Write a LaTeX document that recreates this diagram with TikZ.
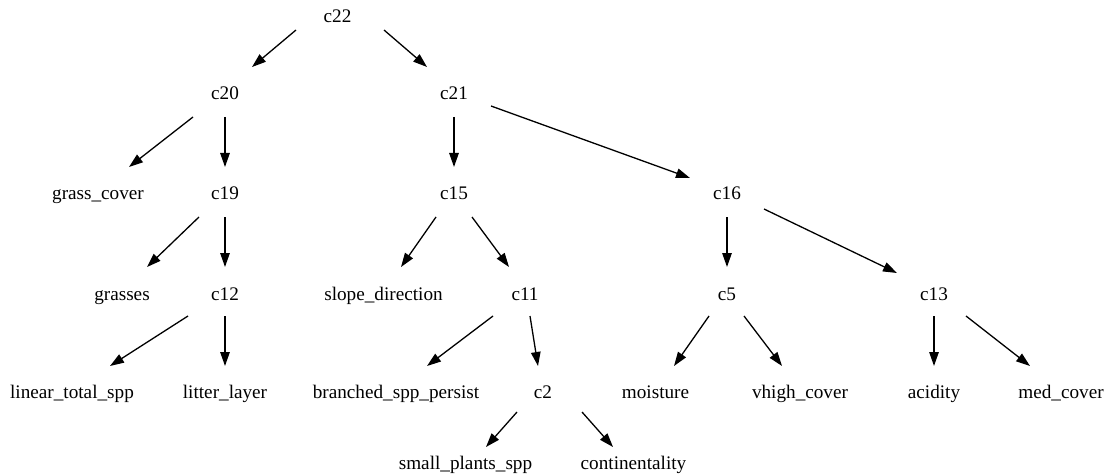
\documentclass[tikz,border=0pt]{standalone}
\usepackage{fontspec}
\setmainfont{Liberation Serif}
\usetikzlibrary{arrows.meta,calc}
\begin{document}
\begin{tikzpicture}[x=1pt,y=-1pt,
  lbl/.style={anchor=base,inner sep=0pt,font=\fontsize{19.2}{23}\selectfont},
  edge/.style={line width=1.3pt,-{Triangle[length=14pt,width=9.5pt]}}]
\useasboundingbox (0,0) rectangle (1114,476);
% rank 1
\node[lbl] (c22) at (337.5,23) {c22};
% rank 2
\node[lbl] (c20) at (225,100) {c20};
\node[lbl] (c21) at (454,100) {c21};
% rank 3
\node[lbl] (grasscover) at (98,200) {grass\_cover};
\node[lbl] (c19) at (225,200) {c19};
\node[lbl] (c15) at (454,200) {c15};
\node[lbl] (c16) at (727,200) {c16};
% rank 4
\node[lbl] (grasses) at (122,300) {grasses};
\node[lbl] (c12) at (225,300) {c12};
\node[lbl] (slope) at (383.5,300) {slope\_direction};
\node[lbl] (c11) at (525,300) {c11};
\node[lbl] (c5) at (727,300) {c5};
\node[lbl] (c13) at (934,300) {c13};
% rank 5
\node[lbl] (linear) at (72,398) {linear\_total\_spp};
\node[lbl] (litter) at (225,398) {litter\_layer};
\node[lbl] (branched) at (396,398) {branched\_spp\_persist};
\node[lbl] (c2) at (543,398) {c2};
\node[lbl] (moisture) at (655.5,398) {moisture};
\node[lbl] (vhigh) at (800,398) {vhigh\_cover};
\node[lbl] (acidity) at (934,398) {acidity};
\node[lbl] (medcover) at (1061,398) {med\_cover};
% rank 6
\node[lbl] (small) at (465.5,469) {small\_plants\_spp};
\node[lbl] (cont) at (633.5,469) {continentality};
% edges
\draw[edge] ($(c22.base)+(-41.5,7)$) -- ($(c20.base)+(27,-33)$);
\draw[edge] ($(c22.base)+(46.5,7)$) -- ($(c21.base)+(-27,-33)$);
\draw[edge] ($(c20.base)+(-32,17)$) -- ($(grasscover.base)+(31,-33)$);
\draw[edge] ($(c20.base)+(0,17)$) -- ($(c19.base)+(0,-33)$);
\draw[edge] ($(c21.base)+(0,17)$) -- ($(c15.base)+(0,-33)$);
\draw[edge] ($(c21.base)+(37,6)$) -- ($(c16.base)+(-37,-22)$);
\draw[edge] ($(c19.base)+(-26,17)$) -- ($(grasses.base)+(25,-33)$);
\draw[edge] ($(c19.base)+(0,17)$) -- ($(c12.base)+(0,-33)$);
\draw[edge] ($(c15.base)+(-18,17)$) -- ($(slope.base)+(17.5,-33)$);
\draw[edge] ($(c15.base)+(18,17)$) -- ($(c11.base)+(-16,-33)$);
\draw[edge] ($(c16.base)+(0,17)$) -- ($(c5.base)+(0,-33)$);
\draw[edge] ($(c16.base)+(37,9)$) -- ($(c13.base)+(-37,-27)$);
\draw[edge] ($(c12.base)+(-37,16)$) -- ($(linear.base)+(38,-32)$);
\draw[edge] ($(c12.base)+(0,16)$) -- ($(litter.base)+(0,-32)$);
\draw[edge] ($(c11.base)+(-32,16)$) -- ($(branched.base)+(31,-32)$);
\draw[edge] ($(c11.base)+(5,16)$) -- ($(c2.base)+(-5,-32)$);
\draw[edge] ($(c5.base)+(-18,16)$) -- ($(moisture.base)+(18.5,-32)$);
\draw[edge] ($(c5.base)+(17,16)$) -- ($(vhigh.base)+(-18,-32)$);
\draw[edge] ($(c13.base)+(0,16)$) -- ($(acidity.base)+(0,-32)$);
\draw[edge] ($(c13.base)+(32,16)$) -- ($(medcover.base)+(-31,-32)$);
\draw[edge] ($(c2.base)+(-26,14)$) -- ($(small.base)+(20.5,-22)$);
\draw[edge] ($(c2.base)+(39,14)$) -- ($(cont.base)+(-20.5,-22)$);
\end{tikzpicture}
\end{document}
